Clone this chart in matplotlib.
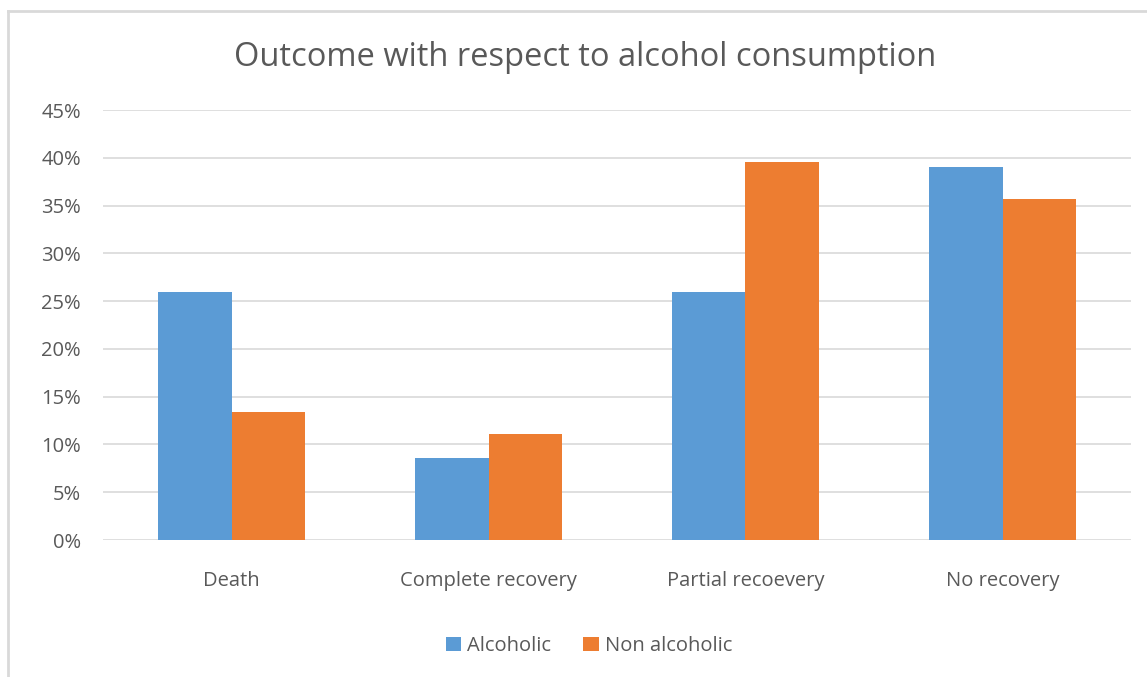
import matplotlib
matplotlib.use("Agg")
import matplotlib.pyplot as plt
from matplotlib.lines import Line2D
from matplotlib.ticker import FuncFormatter
import numpy as np

categories = ["Death", "Complete recovery", "Partial recoevery", "No recovery"]
alcoholic = [26.0, 8.6, 26.0, 39.0]
non_alcoholic = [13.4, 11.1, 39.6, 35.7]
series_names = ["Alcoholic", "Non alcoholic"]
yticks = [0, 5, 10, 15, 20, 25, 30, 35, 40, 45]

plt.rcParams['font.family'] = ['Open Sans', 'DejaVu Sans']
W, H = 1147, 677
fig = plt.figure(figsize=(W/100, H/100), dpi=100)
ax = fig.add_axes([103/W, 1-540/H, (1131-103)/W, (540-110)/H])

x = np.arange(len(categories))
bw = 0.286
blue = "#5B9BD5"
orange = "#ED7D31"
ax.bar(x - bw/2, alcoholic, bw, color=blue, label=series_names[0], zorder=3)
ax.bar(x + bw/2, non_alcoholic, bw, color=orange, label=series_names[1], zorder=3)

ax.set_xlim(-0.5, 3.5)
ax.set_ylim(0, 45)
ax.set_yticks(yticks)
ax.yaxis.set_major_formatter(FuncFormatter(lambda v, p: f"{int(v)}%"))
ax.grid(axis='y', color="#D9D9D9", linewidth=1.2, zorder=0)
for s in ax.spines.values():
    s.set_visible(False)
ax.tick_params(axis='both', length=0, colors="#595959", labelsize=14.5)
ax.tick_params(axis='y', pad=16)
ax.tick_params(axis='x', pad=22)
ax.set_xticks(x)
ax.set_xticklabels(categories)

fig.text(585/W, 1-57/H, "Outcome with respect to alcohol consumption",
         ha='center', va='center', fontsize=23.5, color="#595959")

leg = fig.legend(loc='center', bbox_to_anchor=(589/W, 1-646/H), ncol=2, frameon=False,
                 fontsize=14.5, handlelength=0.75, handleheight=0.75, handletextpad=0.3,
                 columnspacing=1.6)
for t in leg.get_texts():
    t.set_color("#595959")

# chart border
fig.add_artist(Line2D([8/W, 8/W], [0, 1-11/H], color="#D9D9D9", linewidth=2, transform=fig.transFigure))
fig.add_artist(Line2D([8/W, 1], [1-11/H, 1-11/H], color="#D9D9D9", linewidth=2, transform=fig.transFigure))

fig.savefig("out.png", dpi=100)
